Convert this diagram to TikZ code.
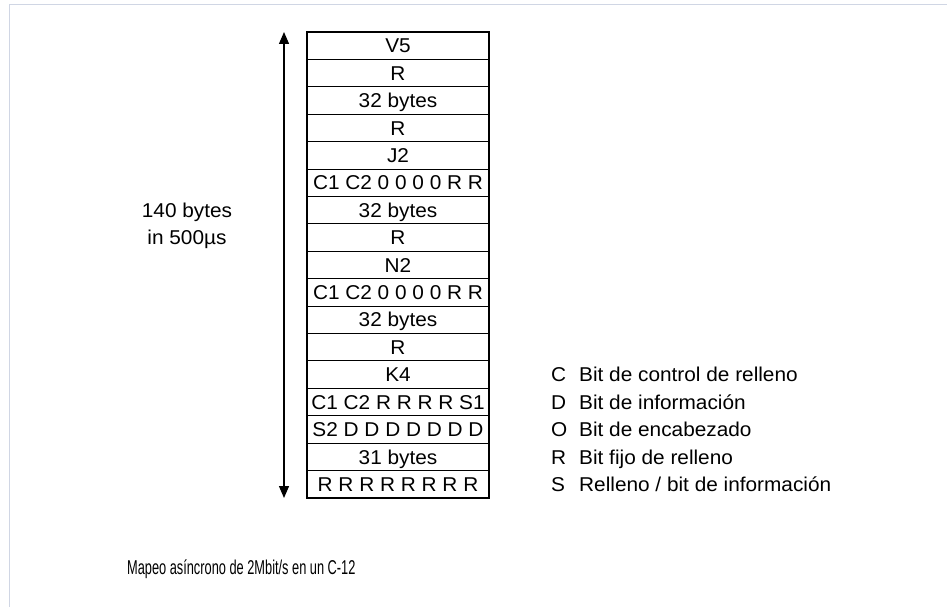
\documentclass[tikz,border=0pt]{standalone}
\usepackage{fontspec}
\setmainfont{Liberation Sans}[FakeStretch=1.04]
\newfontfamily\capfont{Liberation Sans}
\usetikzlibrary{arrows.meta}
\begin{document}
\begin{tikzpicture}[x=1pt,y=-1pt,
  frameline/.style={draw={rgb,255:red,208;green,214;blue,228}, line width=1.6pt},
  cell/.style={draw=black, line width=1.1pt, minimum width=182pt, minimum height=27.41pt,
    inner sep=0pt, text height=14.3pt, text depth=0pt, font=\fontsize{20}{24}\selectfont},
  txt/.style={font=\fontsize{20}{27}\selectfont, inner sep=0pt},
  headtip/.tip={Triangle[length=12pt,width=10pt]}]
\useasboundingbox (0,0) rectangle (947,607);
\fill[white] (0,0) rectangle (947,607);
% page frame (top and left edges)
\draw[frameline] (9.5,607) -- (9.5,4.5) -- (947,4.5);
% the 17 rows of the C-12 container
\foreach [count=\i] \t in {V5, R, 32 bytes, R, J2, C1 C2 0 0 0 0 R R, 32 bytes, R, N2,
    C1 C2 0 0 0 0 R R, 32 bytes, R, K4, C1 C2 R R R R S1, S2 D D D D D D D, 31 bytes,
    R R R R R R R R}
  \node[cell] (r\i) at (398,{32+(\i-0.5)*27.41}) {\t};
% duration arrow
\coordinate (atop) at (284,32);
\coordinate (abot) at (284,498);
\draw[line width=1.3pt, headtip-headtip] (atop) -- (abot);
\node[txt, align=center] (lbl) at (187,226) {140 bytes\\in 500µs};
% legend
\foreach [count=\j] \k/\d in {C/{Bit de control de relleno}, D/{Bit de información},
    O/{Bit de encabezado}, R/{Bit fijo de relleno}, S/{Relleno / bit de información}} {
  \pgfmathsetmacro{\yy}{32+(\j+11.5)*27.41+7.2}
  \node[txt, anchor=base west] (lk\j) at (551,\yy) {\k};
  \node[txt, anchor=base west] (ld\j) at (579,\yy) {\d};
}
% caption
\node[inner sep=0pt, anchor=base west, xscale=0.64, font=\capfont\fontsize{20}{24}\selectfont]
  (cap) at (127,574) {Mapeo asíncrono de 2Mbit/s en un C-12};
\end{tikzpicture}
\end{document}
